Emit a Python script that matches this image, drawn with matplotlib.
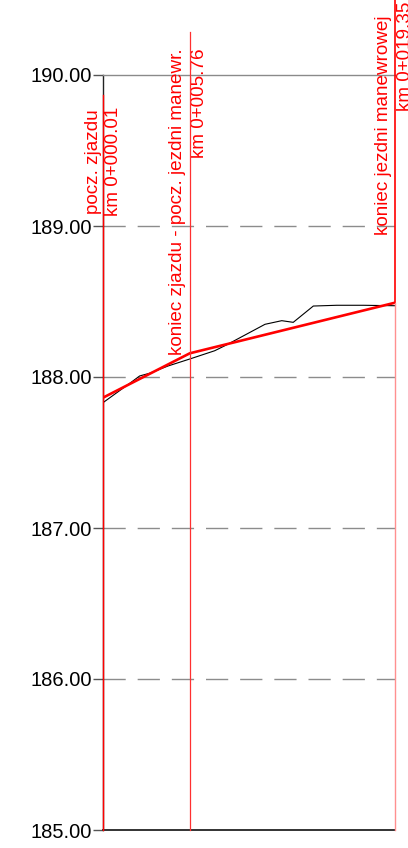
import matplotlib
matplotlib.use("Agg")
import matplotlib.pyplot as plt

plt.rcParams['font.family'] = ['Liberation Sans', 'DejaVu Sans']

# --- data ---
terrain_x = [0.01, 1.78, 2.44, 3.10, 4.32, 5.75, 7.41, 8.18, 10.74, 11.85, 12.61, 13.94, 15.49, 17.25, 19.35]
terrain_y = [187.830, 187.958, 188.007, 188.025, 188.073, 188.119, 188.174, 188.212,
             188.349, 188.373, 188.362, 188.470, 188.475, 188.475, 188.472]
design_x = [0.01, 5.76, 19.35]
design_y = [187.863, 188.157, 188.492]
y_ticks = [185, 186, 187, 188, 189, 190]
y_tick_labels = ["185.00", "186.00", "187.00", "188.00", "189.00", "190.00"]
marker_x = [0.01, 5.76, 19.35]
marker_names = ["pocz. zjazdu", "koniec zjazdu - pocz. jezdni manewr.", "koniec jezdni manewrowej"]
marker_km = ["km 0+000.01", "km 0+005.76", "km 0+019.35"]

W, H = 408, 848
fig = plt.figure(figsize=(W / 100, H / 100), dpi=100)
ax = fig.add_axes([103 / W, (H - 830) / H, (395 - 103) / W, (830 - 75) / H])
ax.set_xlim(0.01, 19.35)
ax.set_ylim(185, 190)

px_per_m = (395 - 103) / (19.35 - 0.01)
px_per_unit = (830 - 75) / 5.0


def xd(px):
    return 0.01 + (px - 103) / px_per_m


def yd(py):
    return 190 - (py - 75) / px_per_unit


# grid
for t in y_ticks[1:-1]:
    ax.axhline(t, color='#8c8c8c', lw=1.0, ls=(0, (16, 8.6)), zorder=1)

ax.spines['right'].set_visible(False)
ax.spines['top'].set_color('#8a8a8a')
ax.spines['top'].set_linewidth(1.0)
ax.spines['bottom'].set_color('#333333')
ax.spines['bottom'].set_linewidth(1.4)
ax.spines['left'].set_color('#222222')
ax.spines['left'].set_linewidth(1.0)

ax.set_xticks([])
ax.set_yticks(y_ticks)
ax.set_yticklabels(y_tick_labels, fontsize=14.5)
ax.tick_params(axis='y', length=7, width=1.0, color='#555555', pad=1.2)

# lines
ax.plot(terrain_x, terrain_y, color='black', lw=0.8, zorder=3)
ax.plot(design_x, design_y, color='#ff0000', lw=1.9, zorder=4)

# vertical marker lines
ax.plot([marker_x[0], marker_x[0]], [185, yd(95)], color='#ff0000', lw=1.0, clip_on=False, zorder=5)
ax.plot([marker_x[1], marker_x[1]], [185, yd(32)], color='#ff3030', lw=0.9, clip_on=False, zorder=5)
ax.plot([marker_x[2], marker_x[2]], [yd(303), yd(0)], color='#ff0000', lw=1.2, clip_on=False, zorder=5)
ax.plot([marker_x[2], marker_x[2]], [185, yd(303)], color='#ff9090', lw=1.0, clip_on=False, zorder=5)

# labels
fs = 13.6
name_pos = [(93, 214), (178, 355), (384, 235)]
km_pos = [(114, 216), (200, 158), (406, 111)]
for i in range(3):
    px, py = name_pos[i]
    ax.text(xd(px), yd(py), marker_names[i], rotation=90, color='#ff0000', fontsize=fs,
            ha='center', va='bottom', clip_on=False)
    px, py = km_pos[i]
    ax.text(xd(px), yd(py), marker_km[i], rotation=90, color='#ff0000', fontsize=fs,
            ha='center', va='bottom', clip_on=False)

fig.savefig('out.png', dpi=100)
